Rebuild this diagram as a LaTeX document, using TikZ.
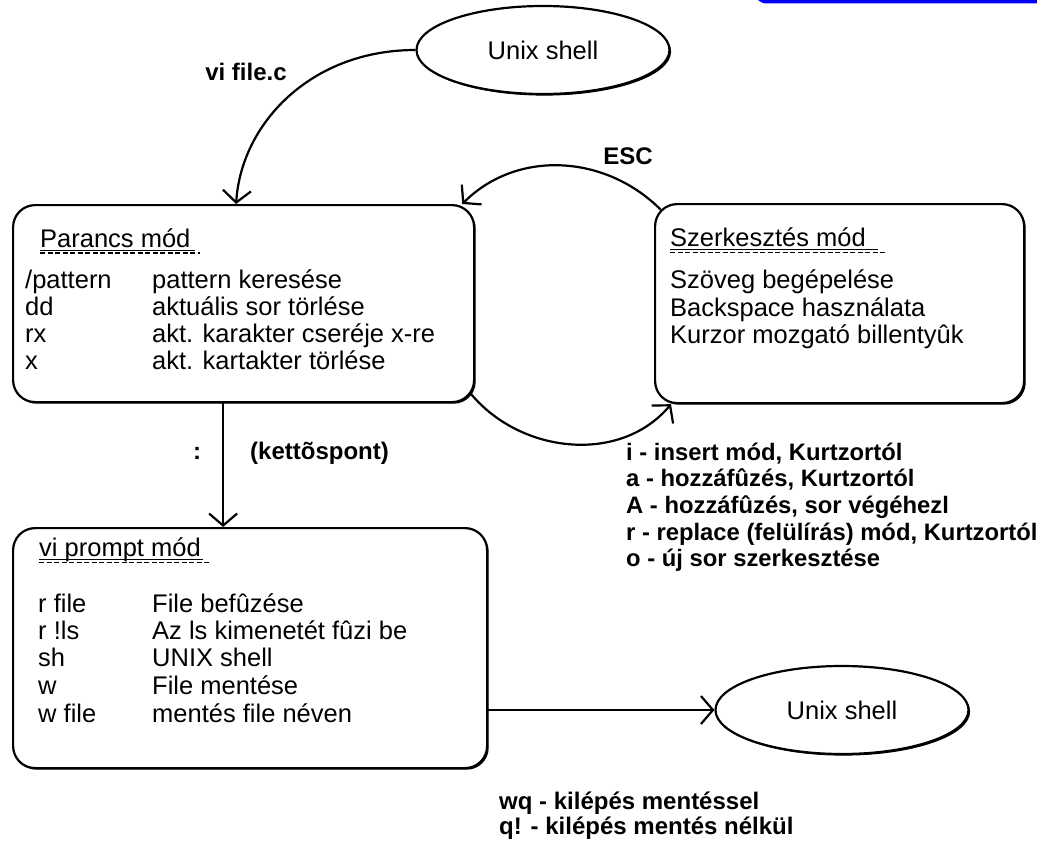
\documentclass[tikz,border=0pt]{standalone}
\usepackage{fontspec}
\setmainfont{Liberation Sans}
\usetikzlibrary{arrows.meta,shapes.geometric,shadows}
\begin{document}
\begin{tikzpicture}[x=1pt,y=-1pt,
  shad/.style={drop shadow={shadow xshift=1.6pt,shadow yshift=-1.6pt,fill=black,opacity=1}},
  box/.style={draw,line width=2.2pt,rounded corners=22pt,fill=white,shad,inner sep=0pt,anchor=north west},
  oval/.style={draw,line width=2.2pt,ellipse,fill=white,shad,inner sep=0pt,minimum width=253pt,minimum height=88pt,font=\fontsize{25.5}{27}\selectfont},
  txt/.style={font=\fontsize{25.5}{27}\selectfont,inner sep=0pt,anchor=base west},
  lbl/.style={font=\bfseries\fontsize{24}{26}\selectfont,inner sep=0pt},
  lst/.style={font=\bfseries\fontsize{23.8}{26}\selectfont,inner sep=0pt,anchor=base west},
  arr/.style={line width=2.2pt,-{Straight Barb[length=12pt,width=28pt,line width=2.2pt]}},
  uline/.style={line width=0.9pt},
  dline/.style={line width=1.6pt,dash pattern=on 5pt off 2.5pt},
]
\useasboundingbox (0,0) rectangle (1037,843);
% blue bar at top right
\fill[blue,rounded corners=14pt] (753,-40) rectangle (1080,3.5);

% nodes
\node[oval] (us1) at (543,50) {Unix shell};
\node[oval] (us2) at (842,710) {Unix shell};
\node[box,minimum width=461pt,minimum height=197pt] (pm) at (12,204) {};
\node[box,minimum width=369pt,minimum height=199pt] (sz) at (654,203) {};
\node[box,minimum width=474pt,minimum height=240pt] (vp) at (12,527) {};

% Parancs mod content
\node[txt] (pmt) at (40,247) {Parancs mód};
\draw[uline] (40,250) -- (195,250);
\draw[dline] (40,253) -- (200,253);
\node[txt] (pma1) at (25,288) {/pattern};
\node[txt] (pmb1) at (152,288) {pattern keresése};
\node[txt] (pma2) at (25,315) {dd};
\node[txt] (pmb2) at (152,315) {aktuális sor törlése};
\node[txt] (pma3) at (25,342) {rx};
\node[txt] (pmb3) at (152,342) {akt. karakter cseréje x-re};
\node[txt] (pma4) at (25,369) {x};
\node[txt] (pmb4) at (152,369) {akt. kartakter törlése};

% Szerkesztes mod content
\node[txt] (szt) at (670,246) {Szerkesztés mód};
\draw[uline] (670,249) -- (878,249);
\draw[dline] (670,252.5) -- (885,252.5);
\node[txt] (sza1) at (670,288) {Szöveg begépelése};
\node[txt] (sza2) at (670,316) {Backspace használata};
\node[txt] (sza3) at (670,343) {Kurzor mozgató billentyûk};

% vi prompt mod content
\node[txt] (vpt) at (39,556) {vi prompt mód};
\draw[uline] (39,559) -- (203,559);
\draw[dline] (39,562.5) -- (209,562.5);
\node[txt] (vpa1) at (38,612) {r file};
\node[txt] (vpb1) at (152,612) {File befûzése};
\node[txt] (vpa2) at (38,639) {r !ls};
\node[txt] (vpb2) at (152,639) {Az ls kimenetét fûzi be};
\node[txt] (vpa3) at (38,666) {sh};
\node[txt] (vpb3) at (152,666) {UNIX shell};
\node[txt] (vpa4) at (38,694) {w};
\node[txt] (vpb4) at (152,694) {File mentése};
\node[txt] (vpa5) at (38,722) {w file};
\node[txt] (vpb5) at (152,722) {mentés file néven};

% connectors
\draw[arr] (us1.west) .. controls +(-105,0) and +(5,-80) .. ([xshift=-7.5pt]pm.north);
\draw[arr] ([shift={(6.5,6.5)}]sz.north west) to[out=135,in=45] ([xshift=-13pt]pm.north east);
\draw[arr] ([shift={(-4,-9)}]pm.south east) to[out=-50,in=-130] ([xshift=17pt]sz.south west);
\path ([xshift=-20.5pt]pm.south) coordinate (ka);
\draw[arr] (ka) -- (ka |- vp.north);
\draw[arr] (us2.west -| vp.east) -- (us2.west);

% labels
\node[lbl] (lvi) at (246,72) {vi file.c};
\node[lbl] (lesc) at (628,156) {ESC};
\node[lbl] (lcol) at (197,453) {:};
\node[lbl,anchor=west] (lket) at (250,453) {(kettõspont)};
\node[lst] (li1) at (626,460) {i - insert mód, Kurtzortól};
\node[lst] (li2) at (626,486.7) {a - hozzáfûzés, Kurtzortól};
\node[lst] (li3) at (626,513.4) {A - hozzáfûzés, sor végéhezl};
\node[lst] (li4) at (626,540.1) {r - replace (felülírás) mód, Kurtzortól};
\node[lst] (li5) at (626,566.8) {o - új sor szerkesztése};
\node[lbl,anchor=base west] (lwq) at (499,809) {wq - kilépés mentéssel};
\node[lbl,anchor=base west] (lq) at (499,834) {q! - kilépés mentés nélkül};
\end{tikzpicture}
\end{document}
